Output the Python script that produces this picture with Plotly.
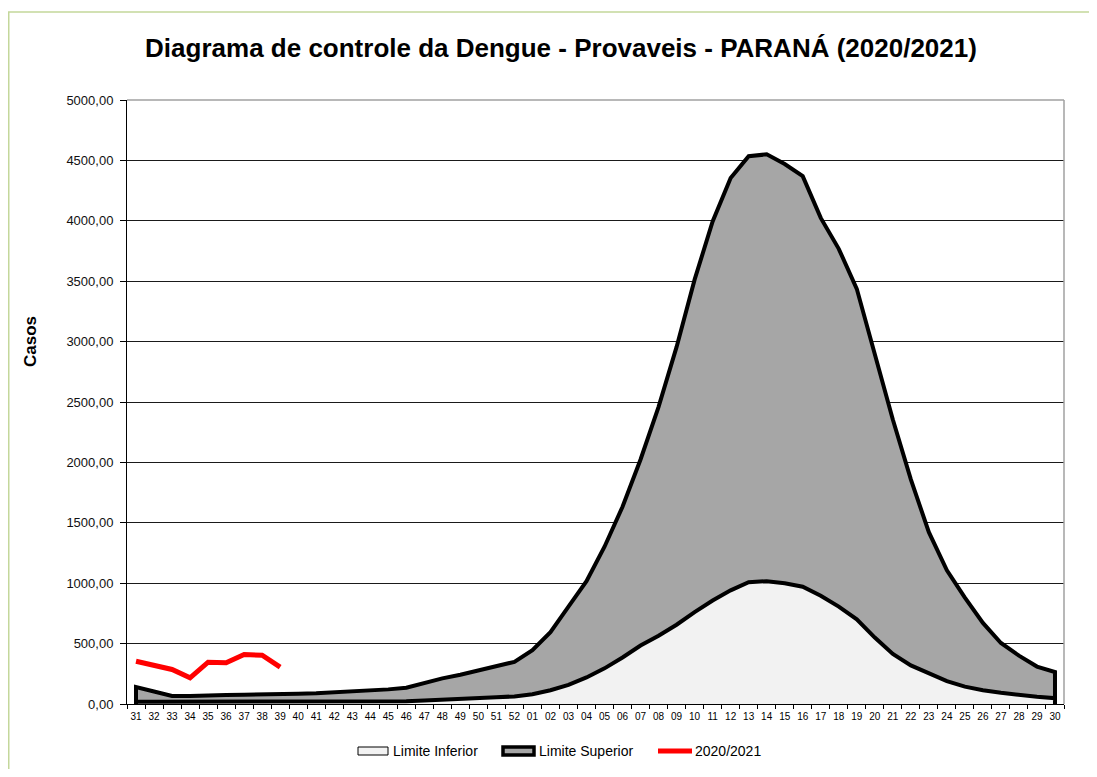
import plotly.graph_objects as go

# ---------------- data ----------------
weeks = [str(w) for w in range(31, 53)] + [f"{w:02d}" for w in range(1, 31)]

limite_inferior = [19, 19, 19, 19, 19, 19, 19, 19, 19, 19, 19, 19, 20, 20, 21, 22,
                   28, 33, 40, 48, 55, 63,
                   81, 114, 159, 220, 295, 385, 484, 565, 656, 761, 857, 941, 1008,
                   1017, 1000, 971, 896, 806, 701, 550, 415, 319, 250, 190, 144,
                   114, 93, 75, 60, 48]

limite_superior = [140, 104, 66, 66, 66, 74, 77, 77, 80, 85, 88, 96, 104, 107, 121, 135,
                   176, 212, 242, 275, 308, 349,
                   445, 595, 806, 1017, 1302, 1633, 2024, 2460, 2956, 3513, 3994, 4355,
                   4535, 4550, 4470, 4370, 4024, 3768, 3437, 2896, 2355, 1859, 1422,
                   1107, 881, 671, 505, 400, 310, 265]

casos_2020_2021 = [354, 321, 286, 217, 346, 341, 409, 404, 305]

y_tick_values = [0, 500, 1000, 1500, 2000, 2500, 3000, 3500, 4000, 4500, 5000]
y_tick_labels = ["0,00", "500,00", "1000,00", "1500,00", "2000,00", "2500,00",
                 "3000,00", "3500,00", "4000,00", "4500,00", "5000,00"]

series_names = ["Limite Inferior", "Limite Superior", "2020/2021"]
title_text = "Diagrama de controle da Dengue - Provaveis - PARANÁ (2020/2021)"
y_title = "Casos"

# ---------------- layout geometry ----------------
FONT = "Liberation Sans, Arial, sans-serif"
OFF = 8                      # default page body margin
W, H = 1081, 761
L, T = 127 - OFF, 100 - OFF
R = W - (1064 - OFF)
B = H - (704 - OFF)
pw, ph = W - L - R, H - T - B


def xp(sx):
    return (sx - OFF - L) / pw


def yp(sy):
    return (T + ph - (sy - OFF)) / ph


idx = list(range(len(weeks)))
n = len(weeks)

fig = go.Figure()

# Limite Superior area (closed polygon from the axis)
fig.add_trace(go.Scatter(
    x=[idx[0]] + idx + [idx[-1]],
    y=[0] + limite_superior + [0],
    mode="lines", fill="toself", fillcolor="#a6a6a6",
    line=dict(color="black", width=4), name=series_names[1],
    showlegend=False, hoverinfo="skip"))

# Limite Inferior area
fig.add_trace(go.Scatter(
    x=[idx[0]] + idx + [idx[-1]],
    y=[0] + limite_inferior + [0],
    mode="lines", fill="toself", fillcolor="#f2f2f2",
    line=dict(color="black", width=4), name=series_names[0],
    showlegend=False, hoverinfo="skip"))

# 2020/2021 line
fig.add_trace(go.Scatter(
    x=idx[:len(casos_2020_2021)], y=casos_2020_2021, mode="lines",
    line=dict(color="#ff0000", width=5), name=series_names[2], showlegend=False))

# ---------------- legend (drawn manually, Excel style) ----------------
leg_y = 751
legend_shapes = [
    dict(type="rect", xref="paper", yref="paper",
         x0=xp(358), x1=xp(388), y0=yp(755), y1=yp(747),
         fillcolor="#f2f2f2", line=dict(color="black", width=1)),
    dict(type="rect", xref="paper", yref="paper",
         x0=xp(503), x1=xp(534), y0=yp(755), y1=yp(747),
         fillcolor="#a6a6a6", line=dict(color="black", width=3.5)),
    dict(type="line", xref="paper", yref="paper",
         x0=xp(658), x1=xp(692), y0=yp(leg_y), y1=yp(leg_y),
         line=dict(color="#ff0000", width=5)),
]
legend_texts = [
    dict(text=series_names[0], x=xp(391), y=yp(leg_y)),
    dict(text=series_names[1], x=xp(537), y=yp(leg_y)),
    dict(text=series_names[2], x=xp(693), y=yp(leg_y)),
]
annotations = [dict(xref="paper", yref="paper", xanchor="left", yanchor="middle",
                    showarrow=False, font=dict(size=14, family=FONT, color="black"),
                    **t) for t in legend_texts]

annotations.append(dict(text=f"<b>{y_title}</b>", xref="paper", yref="paper",
                        x=xp(30), y=yp(342), xanchor="center", yanchor="middle",
                        textangle=-90, showarrow=False,
                        font=dict(size=17, family=FONT, color="black")))

fig.update_layout(
    width=W, height=H,
    margin=dict(l=L, r=R, t=T, b=B, pad=0),
    paper_bgcolor="white", plot_bgcolor="white",
    font=dict(family=FONT, color="black"),
    title=dict(text=f"<b>{title_text}</b>", font=dict(size=26, family=FONT, color="black"),
               x=(561 - OFF) / W, xanchor="center", xref="container",
               y=1 - (48 - OFF) / H, yanchor="middle", yref="container"),
    showlegend=False,
    xaxis=dict(range=[-0.5, n - 0.5], tickmode="array", tickvals=idx, ticktext=weeks,
               ticks="", showgrid=False, zeroline=False, ticklabelstandoff=3,
               showline=True, linecolor="black", linewidth=1,
               tickfont=dict(size=10, family=FONT, color="black"),
               minor=dict(tickmode="array", tickvals=[i - 0.5 for i in range(n + 1)],
                          ticks="outside", ticklen=4, tickcolor="black", tickwidth=1,
                          showgrid=False)),
    yaxis=dict(range=[0, 5000], tickmode="array", tickvals=y_tick_values,
               ticktext=y_tick_labels, ticks="outside", ticklen=6, tickcolor="black",
               ticklabelstandoff=4,
               showgrid=True, gridcolor="#1a1a1a", gridwidth=1, zeroline=False,
               showline=True, linecolor="black", linewidth=1,
               tickfont=dict(size=13, family=FONT, color="#111")),
    annotations=annotations,
    shapes=[
        # plot area top & right border (grey)
        dict(type="line", xref="paper", yref="paper", x0=0, x1=1, y0=1, y1=1,
             line=dict(color="#a0a0a0", width=1.5), layer="above"),
        dict(type="line", xref="paper", yref="paper", x0=1, x1=1, y0=0, y1=1,
             line=dict(color="#a0a0a0", width=1.5), layer="above"),
        # outer chart border (green)
        dict(type="rect", xref="paper", yref="paper",
             x0=(0.75 - L) / pw, x1=1.3, y0=-0.3, y1=yp(12),
             line=dict(color="#c4d79b", width=1.5), fillcolor="rgba(0,0,0,0)",
             layer="below"),
    ] + legend_shapes,
)

fig.write_html("out.html")
